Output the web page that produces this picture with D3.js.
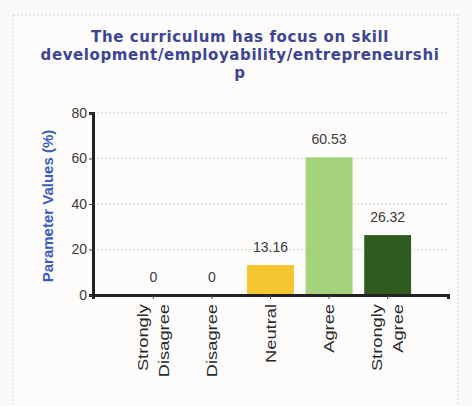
<!DOCTYPE html>
<html>
<head>
<meta charset="utf-8">
<script src="https://cdn.jsdelivr.net/npm/d3@7"></script>
<style>
  body { margin: 0; background: #fbf9f7; }
  svg { display: block; }
</style>
</head>
<body>
<svg id="chart" width="472" height="406"></svg>
<script>
// data
var categories = [["Strongly", "Disagree"], ["Disagree"], ["Neutral"], ["Agree"], ["Strongly", "Agree"]];
var values = [0, 0, 13.16, 60.53, 26.32];
var barColors = ["#b8b8b8", "#b8b8b8", "#f6c532", "#a5d27c", "#2f5b1f"];
var yTicks = [0, 20, 40, 60, 80];
var titleLines = ["The curriculum has focus on skill",
                  "development/employability/entrepreneurshi",
                  "p"];

var svg = d3.select("#chart");

var margins = { top: 113, bottom: 111, left: 93, right: 24 };
var width = 472 - margins.left - margins.right;
var height = 406 - margins.top - margins.bottom;

// light dotted frame
svg.append("rect")
    .attr("x", 13)
    .attr("y", 15)
    .attr("width", 445)
    .attr("height", 400)
    .attr("fill", "#fdfcfb")
    .attr("stroke", "#d8d2d0")
    .attr("stroke-width", 1)
    .attr("stroke-dasharray", "2,2");

// title
svg.append("text")
    .attr("x", 240)
    .attr("y", 42)
    .attr("text-anchor", "middle")
    .style("font-family", "'DejaVu Sans', Verdana, sans-serif")
    .style("font-size", "15px")
    .style("letter-spacing", "0.6px")
    .style("font-weight", "700")
    .style("fill", "#3b4594")
    .selectAll("tspan")
    .data(titleLines)
    .join("tspan")
    .attr("x", 240)
    .attr("dy", (d, i) => i ? 18 : 0)
    .text(d => d);

var g = svg.append("g")
    .attr("transform", "translate(" + margins.left + "," + margins.top + ")");

var x = d3.scaleBand()
    .domain(d3.range(categories.length))
    .range([0, width])
    .paddingInner(0.2)
    .paddingOuter(0.63);

var y = d3.scaleLinear()
    .domain([0, 80])
    .range([height, 0]);

// gridlines
g.selectAll(".grid")
    .data(yTicks.slice(1))
    .join("line")
    .attr("class", "grid")
    .attr("x1", 0)
    .attr("x2", width)
    .attr("y1", d => y(d))
    .attr("y2", d => y(d))
    .attr("stroke", "#d6d6d6")
    .attr("stroke-width", 1)
    .attr("stroke-dasharray", "2,2");

// bars
g.selectAll(".bar")
    .data(values)
    .join("rect")
    .attr("class", "bar")
    .attr("x", (d, i) => x(i))
    .attr("y", d => y(d))
    .attr("width", x.bandwidth())
    .attr("height", d => height - y(d))
    .attr("fill", (d, i) => barColors[i]);

// value labels
g.selectAll(".val")
    .data(values)
    .join("text")
    .attr("class", "val")
    .attr("x", (d, i) => x(i) + x.bandwidth() / 2)
    .attr("y", d => y(d) - 13)
    .attr("text-anchor", "middle")
    .style("font-family", "'Liberation Sans', Arial, sans-serif")
    .style("font-size", "14px")
    .style("fill", "#3a3a3a")
    .text(d => d === 0 ? "0" : d.toFixed(2));

// y axis
var yAxis = g.append("g")
    .call(d3.axisLeft(y).tickValues(yTicks).tickSize(4).tickPadding(2));
yAxis.select(".domain").attr("stroke", "#222").attr("stroke-width", 3);
yAxis.selectAll(".tick line").attr("stroke", "#444");
yAxis.selectAll(".tick text")
    .style("font-family", "'Liberation Sans', Arial, sans-serif")
    .style("font-size", "14px")
    .style("fill", "#3a3a3a");

// x axis
var xAxis = g.append("g")
    .attr("transform", "translate(0," + height + ")")
    .call(d3.axisBottom(x).tickSize(4).tickFormat(""));
xAxis.select(".domain").attr("stroke", "#222").attr("stroke-width", 3);
xAxis.selectAll(".tick line").attr("stroke", "#444");

// category labels, rotated (stretched a bit along the text, as in the picture)
var cat = g.selectAll(".cat")
    .data(categories)
    .join("text")
    .attr("class", "cat")
    .attr("transform", (d, i) => "translate(" + (x(i) + x.bandwidth() / 2) + "," + (height + 9) + ") rotate(-90) scale(1.22,1)")
    .attr("text-anchor", "end")
    .style("font-family", "'Liberation Sans', Arial, sans-serif")
    .style("font-size", "15px")
    .style("fill", "#2a2a2a");

cat.selectAll("tspan")
    .data(d => d.map((t, k) => ({ t: t, k: k, n: d.length })))
    .join("tspan")
    .attr("x", 0)
    .attr("y", d => (d.k - (d.n - 1) / 2) * 21 + 5)
    .text(d => d.t);

// y axis title
svg.append("text")
    .attr("transform", "translate(53," + (margins.top + height / 2 + 2) + ") rotate(-90)")
    .attr("text-anchor", "middle")
    .style("font-family", "'Liberation Sans', Arial, sans-serif")
    .style("font-size", "15px")
    .style("font-weight", "700")
    .style("fill", "#3a5cc0")
    .text("Parameter Values (%)");
</script>
</body>
</html>
